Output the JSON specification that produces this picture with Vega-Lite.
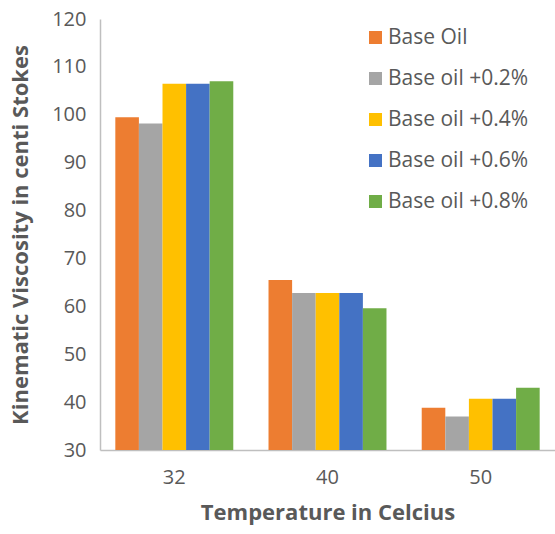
{
  "$schema": "https://vega.github.io/schema/vega-lite/v6.json",
  "width": 455,
  "height": 431,
  "autosize": {"type": "none"},
  "padding": {"left": 100, "top": 19, "right": 0, "bottom": 84},
  "background": "white",
  "config": {
    "view": {"stroke": null},
    "font": "Open Sans",
    "axis": {"grid": false, "ticks": false, "labelColor": "#595959", "titleColor": "#595959", "domainColor": "#bfbfbf", "domainWidth": 1.5, "labelFontSize": 20, "titleFontSize": 22, "titleFontWeight": "bold"}
  },
  "data": {
    "values": [
      {"temp": "32", "series": "Base Oil", "v": 99.5},
      {"temp": "32", "series": "Base oil +0.2%", "v": 98.2},
      {"temp": "32", "series": "Base oil +0.4%", "v": 106.5},
      {"temp": "32", "series": "Base oil +0.6%", "v": 106.5},
      {"temp": "32", "series": "Base oil +0.8%", "v": 107},
      {"temp": "40", "series": "Base Oil", "v": 65.5},
      {"temp": "40", "series": "Base oil +0.2%", "v": 62.8},
      {"temp": "40", "series": "Base oil +0.4%", "v": 62.8},
      {"temp": "40", "series": "Base oil +0.6%", "v": 62.8},
      {"temp": "40", "series": "Base oil +0.8%", "v": 59.6},
      {"temp": "50", "series": "Base Oil", "v": 38.8},
      {"temp": "50", "series": "Base oil +0.2%", "v": 37},
      {"temp": "50", "series": "Base oil +0.4%", "v": 40.7},
      {"temp": "50", "series": "Base oil +0.6%", "v": 40.7},
      {"temp": "50", "series": "Base oil +0.8%", "v": 43}
    ]
  },
  "mark": {"type": "bar", "clip": true},
  "encoding": {
    "x": {
      "field": "temp", "type": "nominal",
      "scale": {"paddingInner": 0.23, "paddingOuter": 0.1},
      "axis": {"title": "Temperature in Celcius", "labelAngle": 0, "labelPadding": 17, "titlePadding": 15}
    },
    "xOffset": {"field": "series", "type": "nominal", "sort": ["Base Oil", "Base oil +0.2%", "Base oil +0.4%", "Base oil +0.6%", "Base oil +0.8%"], "scale": {"paddingInner": 0}},
    "y": {
      "field": "v", "type": "quantitative",
      "scale": {"domain": [30, 120], "nice": false, "zero": false},
      "axis": {"title": "Kinematic Viscosity in centi Stokes", "values": [30, 40, 50, 60, 70, 80, 90, 100, 110, 120], "labelPadding": 14, "titlePadding": 19, "domain": true}
    },
    "color": {
      "field": "series", "type": "nominal",
      "sort": ["Base Oil", "Base oil +0.2%", "Base oil +0.4%", "Base oil +0.6%", "Base oil +0.8%"],
      "scale": {"domain": ["Base Oil", "Base oil +0.2%", "Base oil +0.4%", "Base oil +0.6%", "Base oil +0.8%"], "range": ["#ED7D31", "#A5A5A5", "#FFC000", "#4472C4", "#70AD47"]},
      "legend": {"title": null, "orient": "none", "legendX": 265, "legendY": 8, "symbolType": "square", "symbolSize": 169, "symbolStrokeWidth": 0, "labelFontSize": 21, "labelColor": "#595959", "rowPadding": 19, "labelOffset": 2}
    }
  }
}
